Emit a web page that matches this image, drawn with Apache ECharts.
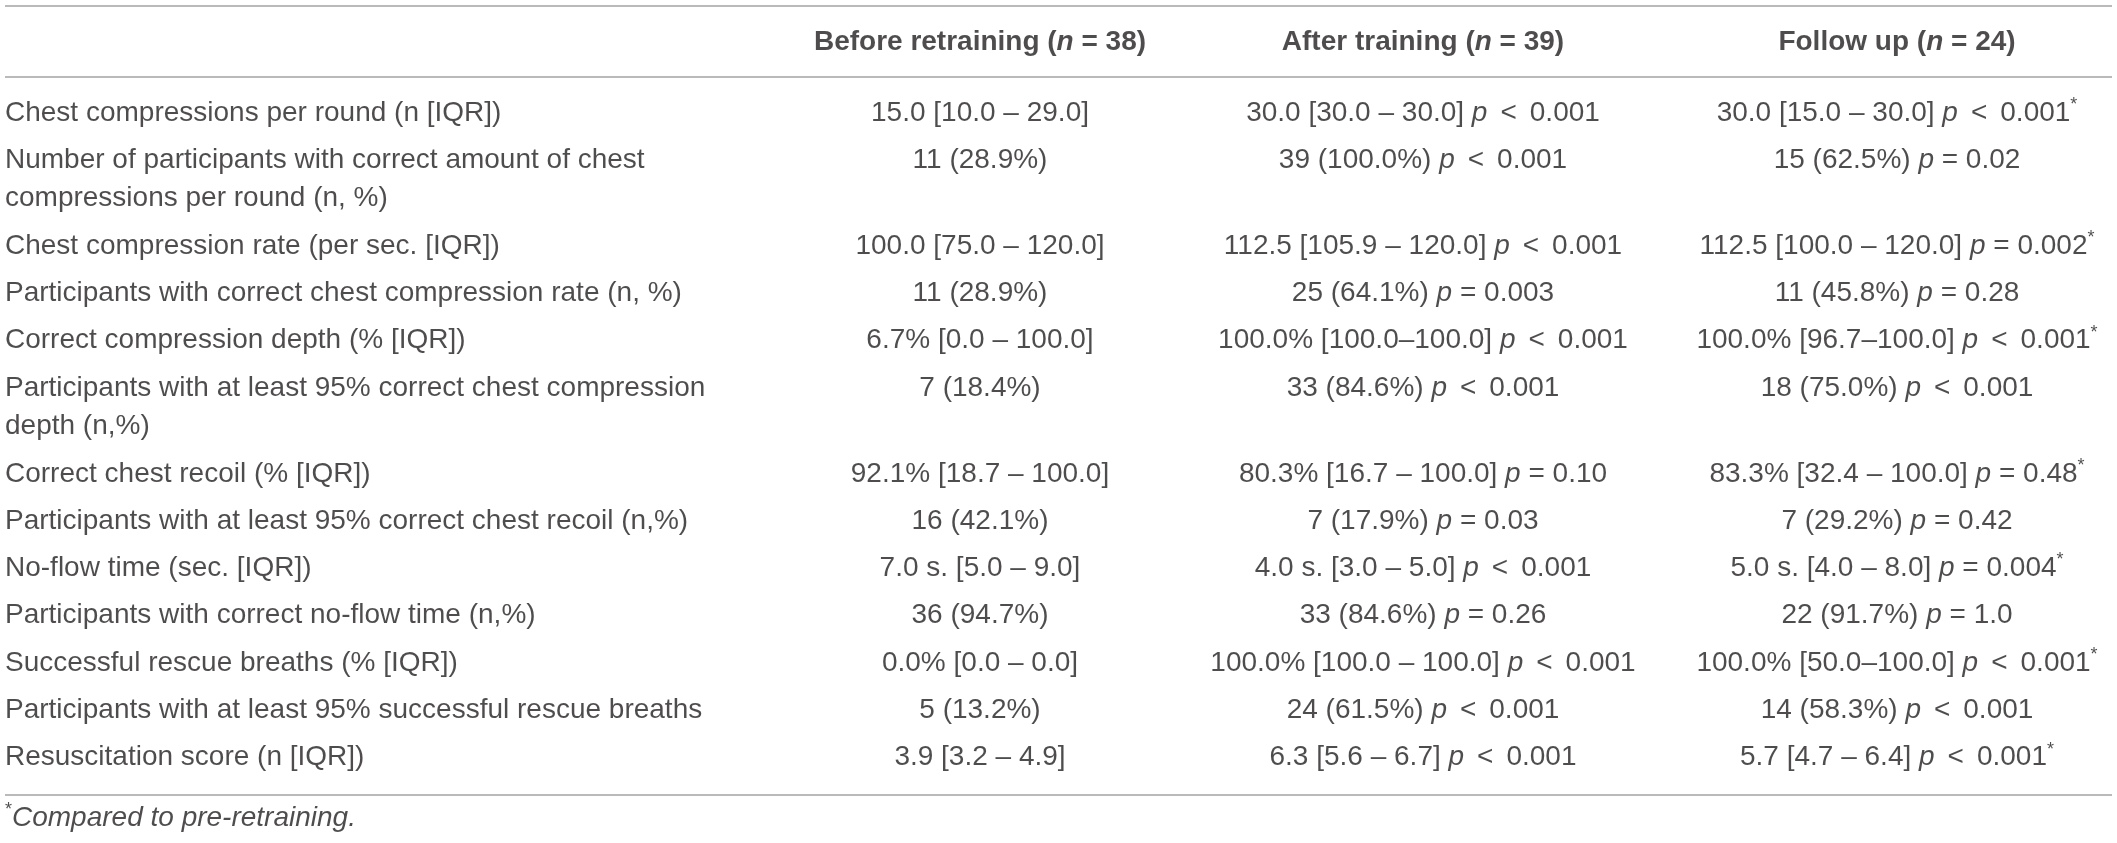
<!DOCTYPE html>
<html>
<head>
<meta charset="utf-8">
<title>Retraining results</title>
<script src="https://cdn.jsdelivr.net/npm/echarts@6/dist/echarts.min.js"></script>
<style>
  html, body { margin: 0; padding: 0; background: #fff; }
  #table { width: 2117px; height: 843px; }
</style>
</head>
<body>
<div id="table"></div>
<script>
// table content
const groupNames = ['Before retraining', 'After training', 'Follow up']
const groupN = [38, 39, 24]

const rowLabels = [
  'Chest compressions per round (n [IQR])',
  'Number of participants with correct amount of chest\ncompressions per round (n, %)',
  'Chest compression rate (per sec. [IQR])',
  'Participants with correct chest compression rate (n, %)',
  'Correct compression depth (% [IQR])',
  'Participants with at least 95% correct chest compression\ndepth (n,%)',
  'Correct chest recoil (% [IQR])',
  'Participants with at least 95% correct chest recoil (n,%)',
  'No-flow time (sec. [IQR])',
  'Participants with correct no-flow time (n,%)',
  'Successful rescue breaths (% [IQR])',
  'Participants with at least 95% successful rescue breaths',
  'Resuscitation score (n [IQR])'
]

const beforeValues = [
  '15.0 [10.0 – 29.0]', '11 (28.9%)', '100.0 [75.0 – 120.0]', '11 (28.9%)',
  '6.7% [0.0 – 100.0]', '7 (18.4%)', '92.1% [18.7 – 100.0]', '16 (42.1%)',
  '7.0 s. [5.0 – 9.0]', '36 (94.7%)', '0.0% [0.0 – 0.0]', '5 (13.2%)',
  '3.9 [3.2 – 4.9]'
]

const afterValues = [
  '30.0 [30.0 – 30.0]', '39 (100.0%)', '112.5 [105.9 – 120.0]', '25 (64.1%)',
  '100.0% [100.0–100.0]', '33 (84.6%)', '80.3% [16.7 – 100.0]', '7 (17.9%)',
  '4.0 s. [3.0 – 5.0]', '33 (84.6%)', '100.0% [100.0 – 100.0]', '24 (61.5%)',
  '6.3 [5.6 – 6.7]'
]
const afterP = [
  '< 0.001', '< 0.001', '< 0.001', '= 0.003', '< 0.001', '< 0.001', '= 0.10',
  '= 0.03', '< 0.001', '= 0.26', '< 0.001', '< 0.001', '< 0.001'
]

const followValues = [
  '30.0 [15.0 – 30.0]', '15 (62.5%)', '112.5 [100.0 – 120.0]', '11 (45.8%)',
  '100.0% [96.7–100.0]', '18 (75.0%)', '83.3% [32.4 – 100.0]', '7 (29.2%)',
  '5.0 s. [4.0 – 8.0]', '22 (91.7%)', '100.0% [50.0–100.0]', '14 (58.3%)',
  '5.7 [4.7 – 6.4]'
]
const followP = [
  '< 0.001*', '= 0.02', '= 0.002*', '= 0.28', '< 0.001*', '< 0.001', '= 0.48*',
  '= 0.42', '= 0.004*', '= 1.0', '< 0.001*', '< 0.001', '< 0.001*'
]

const footnote = 'Compared to pre-retraining.'

// layout (pixels)
const W = 2117
const H = 843
const COL_X = [5, 980, 1423, 1897]
const RULE_LEFT = 5
const RULE_RIGHT = 2112
const TOP_RULE = 5.5
const HEAD_RULE = 77
const BOTTOM_RULE = 795
const HEAD_Y = 42
const FIRST_ROW = 112.8
const ROW_GAP = 47.3
const LINE_GAP = 38.6
const NOTE_Y = 818

const FONT = '"Liberation Sans", Arial, sans-serif'
const INK = '#231f20'

// row positions from the number of lines in each label
const rowY = []
let cursor = FIRST_ROW
rowLabels.forEach(label => {
  rowY.push(cursor)
  cursor += ROW_GAP + (label.split('\n').length - 1) * LINE_GAP
})

const rich = {
  v: { fontFamily: FONT, fontSize: 28, color: INK, lineHeight: 34 },
  i: { fontFamily: FONT, fontSize: 28, color: INK, fontStyle: 'italic', lineHeight: 34 },
  lt: { fontFamily: FONT, fontSize: 28, color: INK, padding: [0, 13], lineHeight: 34 },
  sup: { fontFamily: FONT, fontSize: 18, color: INK, verticalAlign: 'top', lineHeight: 34 },
  b: { fontFamily: FONT, fontSize: 28, color: INK, fontWeight: 'bold', lineHeight: 34 },
  bi: { fontFamily: FONT, fontSize: 28, color: INK, fontWeight: 'bold', fontStyle: 'italic', lineHeight: 34 },
  it: { fontFamily: FONT, fontSize: 28, color: INK, fontStyle: 'italic', lineHeight: 34 }
}

function cellText(value, p) {
  let s = '{v|' + value + '}'
  if (!p) return s
  const op = p[0]
  let num = p.slice(2)
  let star = ''
  if (num.endsWith('*')) {
    num = num.slice(0, -1)
    star = '{sup|*}'
  }
  s += '{v| }{i|p}'
  s += op === '<' ? '{lt|<}{v|' + num + '}' : '{v| ' + op + ' ' + num + '}'
  return s + star
}

function point(x, y, text, align) {
  return {
    value: [x, y],
    label: { formatter: text, align: align }
  }
}

// header cells
const headerData = groupNames.map((name, g) =>
  point(COL_X[g + 1], HEAD_Y, '{b|' + name + ' (}{bi|n}{b| = ' + groupN[g] + ')}', 'center'))

// first column, one point per line of text
const labelData = []
rowLabels.forEach((label, r) => {
  label.split('\n').forEach((line, k) => {
    labelData.push(point(COL_X[0], rowY[r] + k * LINE_GAP, '{v|' + line + '}', 'left'))
  })
})

const cellData = []
rowLabels.forEach((label, r) => {
  cellData.push(point(COL_X[1], rowY[r], cellText(beforeValues[r]), 'center'))
  cellData.push(point(COL_X[2], rowY[r], cellText(afterValues[r], afterP[r]), 'center'))
  cellData.push(point(COL_X[3], rowY[r], cellText(followValues[r], followP[r]), 'center'))
})

const noteData = [point(COL_X[0], NOTE_Y, '{sup|*}{it|' + footnote + '}', 'left')]

const textSeries = (name, data) => ({
  name: name,
  type: 'scatter',
  symbolSize: 0,
  silent: true,
  data: data,
  label: {
    show: true,
    position: [0, 0],
    verticalAlign: 'middle',
    rich: rich
  }
})

const rules = [TOP_RULE, HEAD_RULE, BOTTOM_RULE].map(y => [
  { coord: [RULE_LEFT, y] },
  { coord: [RULE_RIGHT, y] }
])

const option = {
  animation: false,
  backgroundColor: '#ffffff',
  grid: { left: 0, right: 0, top: 0, bottom: 0 },
  xAxis: { type: 'value', min: 0, max: W, show: false },
  yAxis: { type: 'value', min: 0, max: H, inverse: true, show: false },
  series: [
    textSeries('header', headerData),
    textSeries('labels', labelData),
    textSeries('cells', cellData),
    textSeries('note', noteData),
    {
      name: 'rules',
      type: 'line',
      data: [],
      silent: true,
      markLine: {
        silent: true,
        symbol: 'none',
        label: { show: false },
        lineStyle: { color: '#a3a3a3', width: 1.5, type: 'solid' },
        data: rules
      }
    }
  ]
}

const chart = echarts.init(document.getElementById('table'))
chart.setOption(option)
</script>
</body>
</html>
